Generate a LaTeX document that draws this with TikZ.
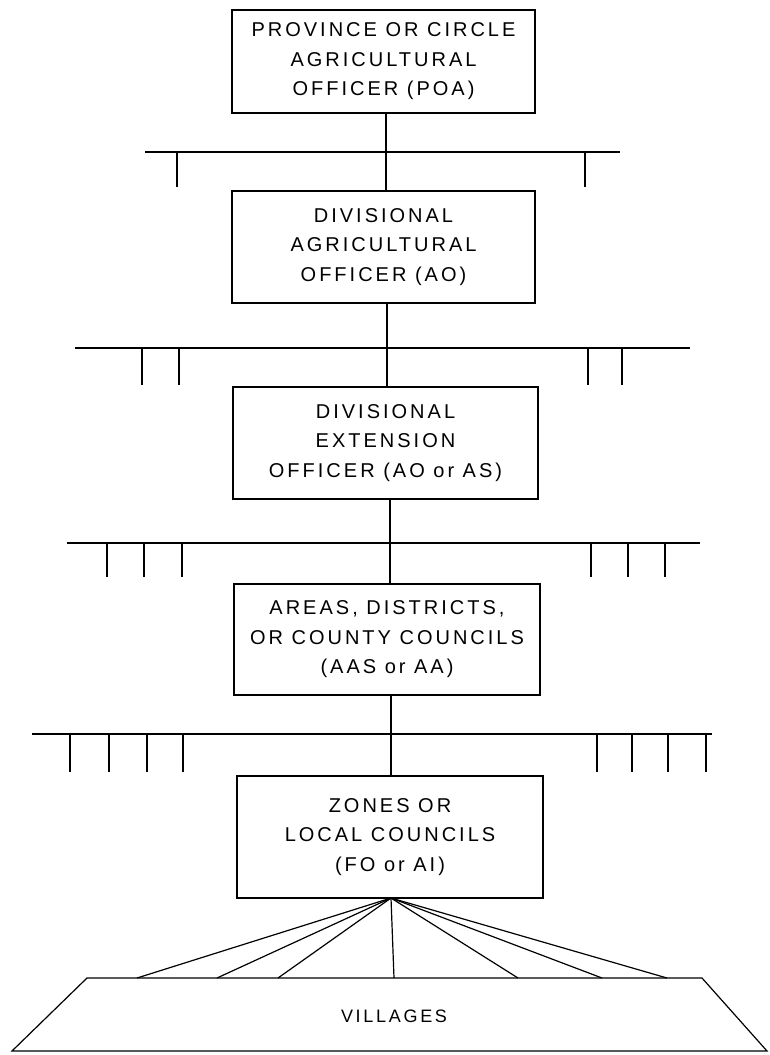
\documentclass[tikz,border=0pt]{standalone}
\usepackage{fontspec}
\newfontfamily\orgfont[LetterSpace=15]{Liberation Sans}
\usetikzlibrary{positioning}

\tikzset{
  office/.style={draw, line width=1.2, minimum width=303, minimum height=112,
    align=center, font=\orgfont\fontsize{20}{29.5}\selectfont, inner sep=0pt},
  link/.style={line width=1.2},
  tick/.style={line width=1.5}
}

\begin{document}
\begin{tikzpicture}[x=1pt,y=-1pt]
\useasboundingbox (0,0) rectangle (769,1055);

\node[office, minimum height=103] (poa) at (383.5,61.5) {PROVINCE OR CIRCLE\\AGRICULTURAL\\OFFICER (POA)};
\node[office] (ao) at (383.5,247) {DIVISIONAL\\AGRICULTURAL\\OFFICER (AO)};
\node[office, minimum width=305] (deo) at (385.5,443) {DIVISIONAL\\EXTENSION\\OFFICER (AO or AS)};
\node[office, minimum width=306, minimum height=111] (area) at (387,639.5) {AREAS, DISTRICTS,\\OR COUNTY COUNCILS\\(AAS or AA)};
\node[office, minimum width=306, minimum height=122] (zone) at (390,837) {ZONES OR\\LOCAL COUNCILS\\(FO or AI)};

% staff bars
\coordinate (b1) at (386,152);
\coordinate (b2) at (387,348);
\coordinate (b3) at (390,543);
\coordinate (b4) at (391,734);

\draw[link] (poa.south -| b1) -- (ao.north -| b1);
\draw[link] (ao.south -| b2) -- (deo.north -| b2);
\draw[link] (deo.south -| b3) -- (area.north -| b3);
\draw[link] (area.south -| b4) -- (zone.north -| b4);

\draw[link] (145,152) -- (620,152);
\draw[link] (75,348) -- (690,348);
\draw[link] (67,543) -- (700,543);
\draw[link] (32,734) -- (712,734);

\foreach \x in {177,585}
  \draw[tick] (\x,152) -- (\x,187);
\foreach \x in {142,179,588,622}
  \draw[tick] (\x,348) -- (\x,385);
\foreach \x in {107,144,182,591,628,665}
  \draw[tick] (\x,543) -- (\x,577);
\foreach \x in {70,109,147,183,597,632,668,706}
  \draw[tick] (\x,734) -- (\x,772);

% villages
\coordinate (vtl) at (87,978);
\coordinate (vtr) at (702,978);
\coordinate (vbl) at (12,1051);
\coordinate (vbr) at (767,1051);
\draw[link] (vbl) -- (vtl) -- (vtr) -- (vbr) -- cycle;
\node[font=\orgfont\fontsize{18}{20}\selectfont] (vil) at (394,1016) {VILLAGES};

\coordinate (fan) at (391,898);
\foreach \x in {137,217,278,394,518,602,667}
  \draw[link] (fan) -- (\x,978);
\end{tikzpicture}
\end{document}
